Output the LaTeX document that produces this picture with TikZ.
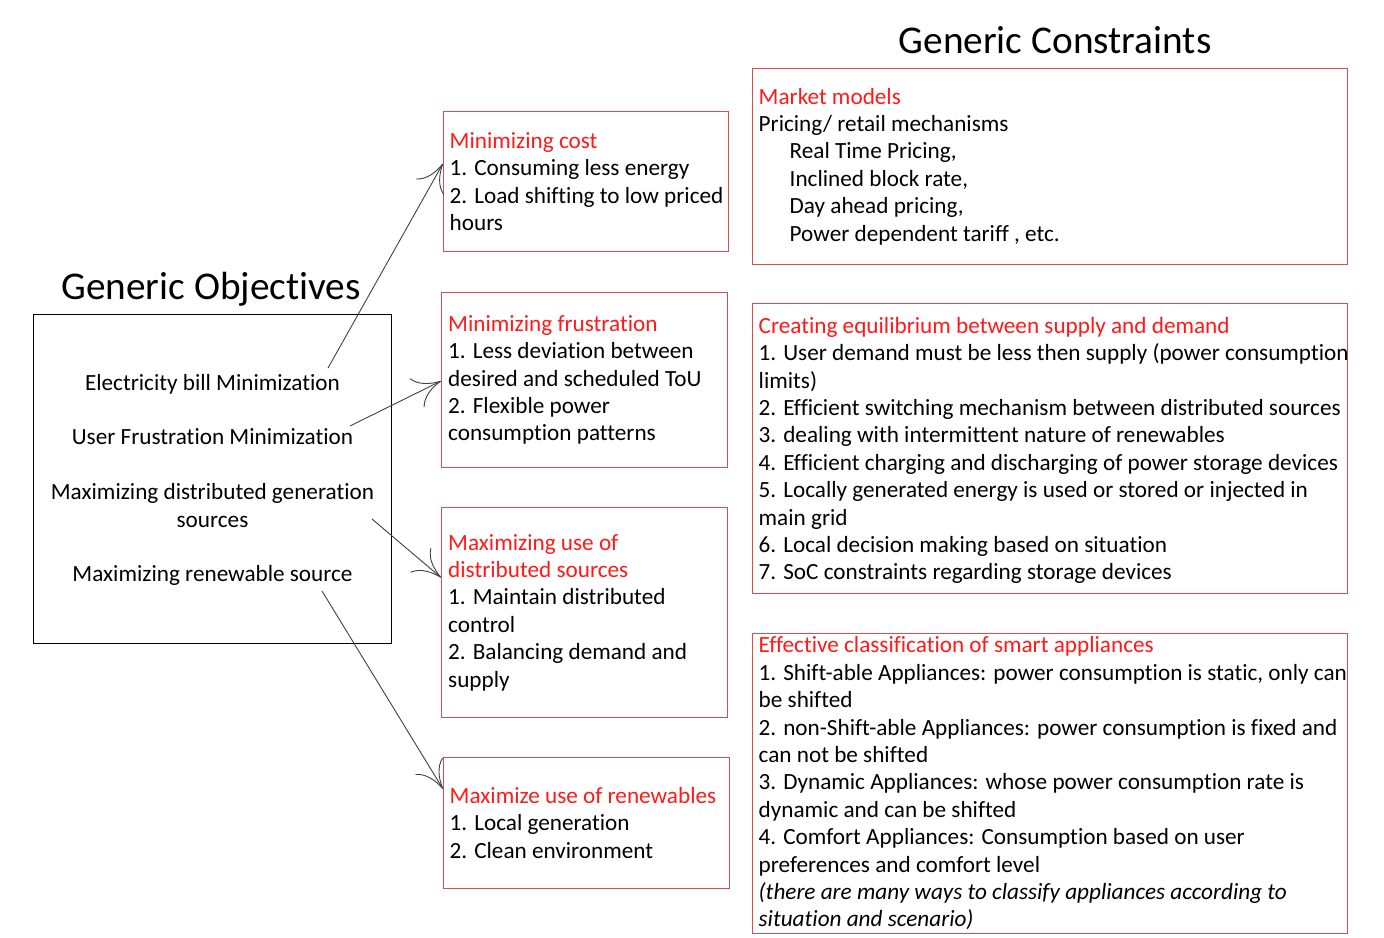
\documentclass[tikz,border=0pt]{standalone}
\usepackage{fontspec}
\setmainfont{Carlito}[Ligatures=NoCommon]
\usetikzlibrary{arrows.meta}

\definecolor{boxred}{RGB}{212,80,80}
\definecolor{headred}{RGB}{255,25,25}
\newcommand{\hd}[1]{\textcolor{headred}{#1}}
\newcommand{\ind}{\hspace*{31pt}}

\begin{document}
\begin{tikzpicture}[x=1pt,y=-1pt,
  txt/.style={font=\fontsize{23.2}{27.4}\selectfont,align=left,inner sep=0pt,anchor=west},
  title/.style={font=\fontsize{39.3}{42}\selectfont,inner sep=0pt},
  redbox/.style={draw=boxred,line width=1pt,inner sep=0pt,anchor=north west},
  pointer/.style={draw=black!75,line width=0.9pt,
    -{Computer Modern Rightarrow[length=27pt,width=32pt,line width=0.9pt]}}]
\useasboundingbox (0,0) rectangle (1384,937);

%%% objectives %%%
  \node (ObjT) at (211,289) [title] {Generic Objectives};
  \node (Obj) at (33,314) [draw,line width=1pt,inner sep=0pt,anchor=north west,
      minimum width=358pt,minimum height=329pt] {};
  \node (ObjTxt) at ([yshift=-1pt]Obj.center) [txt,anchor=center,align=center]
      {Electricity bill Minimization\\[27.4pt]
       User Frustration Minimization\\[27.4pt]
       Maximizing distributed generation\\ sources\\[27.4pt]
       Maximizing renewable source};

%%% objective boxes %%%
  \node (Cost) at (443,111) [redbox,minimum width=285pt,minimum height=140pt] {};
  \node (Frus) at (441,292) [redbox,minimum width=286pt,minimum height=175pt] {};
  \node (Dist) at (441,507) [redbox,minimum width=286pt,minimum height=210pt] {};
  \node (Ren)  at (443,757) [redbox,minimum width=286pt,minimum height=131pt] {};

\node (CostTxt) at ([xshift=6.5pt]Cost.west) [txt]
  {\hd{Minimizing cost}\\
   1. Consuming less energy\\
   2. Load shifting to low priced\\
   hours};
\node (FrusTxt) at ([xshift=7pt]Frus.west) [txt]
  {\hd{Minimizing frustration}\\
   1. Less deviation between\\
   desired and scheduled ToU\\
   2. Flexible power\\
   consumption patterns};
\node (DistTxt) at ([xshift=7pt]Dist.west) [txt]
  {\hd{Maximizing use of}\\
   \hd{distributed sources}\\
   1. Maintain distributed\\
   control\\
   2. Balancing demand and\\
   supply};
\node (RenTxt) at ([xshift=6.5pt]Ren.west) [txt]
  {\hd{Maximize use of renewables}\\
   1. Local generation\\
   2. Clean environment};

%%% constraints %%%
  \node (ConT) at (1055,40) [title] {Generic Constraints};
  \node (Mkt) at (752,68)  [redbox,minimum width=595pt,minimum height=196pt] {};
  \node (Eq)  at (752,303) [redbox,minimum width=595pt,minimum height=290pt] {};
  \node (Cls) at (752,633) [redbox,minimum width=595pt,minimum height=300pt] {};

\node (MktTxt) at ([xshift=6.5pt]Mkt.west) [txt]
  {\hd{Market models}\\
   Pricing/ retail mechanisms\\
   \ind Real Time Pricing,\\
   \ind Inclined block rate,\\
   \ind Day ahead pricing,\\
   \ind Power dependent tariff , etc.};
\node (EqTxt) at ([xshift=6.5pt,yshift=-2pt]Eq.west) [txt]
  {\hd{Creating equilibrium between supply and demand}\\
   1. User demand must be less then supply (power consumption\\
   limits)\\
   2. Efficient switching mechanism between distributed sources\\
   3. dealing with intermittent nature of renewables\\
   4. Efficient charging and discharging of power storage devices\\
   5. Locally generated energy is used or stored or injected in\\
   main grid\\
   6. Local decision making based on situation\\
   7. SoC constraints regarding storage devices};
\node (ClsTxt) at ([xshift=6.5pt]Cls.west) [txt]
  {\hd{Effective classification of smart appliances}\\
   1. Shift-able Appliances: power consumption is static, only can\\
   be shifted\\
   2. non-Shift-able Appliances: power consumption is fixed and\\
   can not be shifted\\
   3. Dynamic Appliances: whose power consumption rate is\\
   dynamic and can be shifted\\
   4. Comfort Appliances: Consumption based on user\\
   preferences and comfort level\\
   \textit{(there are many ways to classify appliances according to}\\
   \textit{situation and scenario)}};

%%% arrows %%%
  \coordinate (a1) at (328,368);
  \coordinate (a2) at (350,426);
  \coordinate (a3) at (372,519);
  \coordinate (a4) at (322,591);

\draw [pointer] (a1) -- ([yshift=18pt]Cost.west);
\draw [pointer] (a2) -- ([yshift=-1pt]Frus.west);
\draw [pointer] (a3) -- ([yshift=35pt]Dist.west);
\draw [pointer] (a4) -- ([yshift=34pt]Ren.west);
\end{tikzpicture}
\end{document}
